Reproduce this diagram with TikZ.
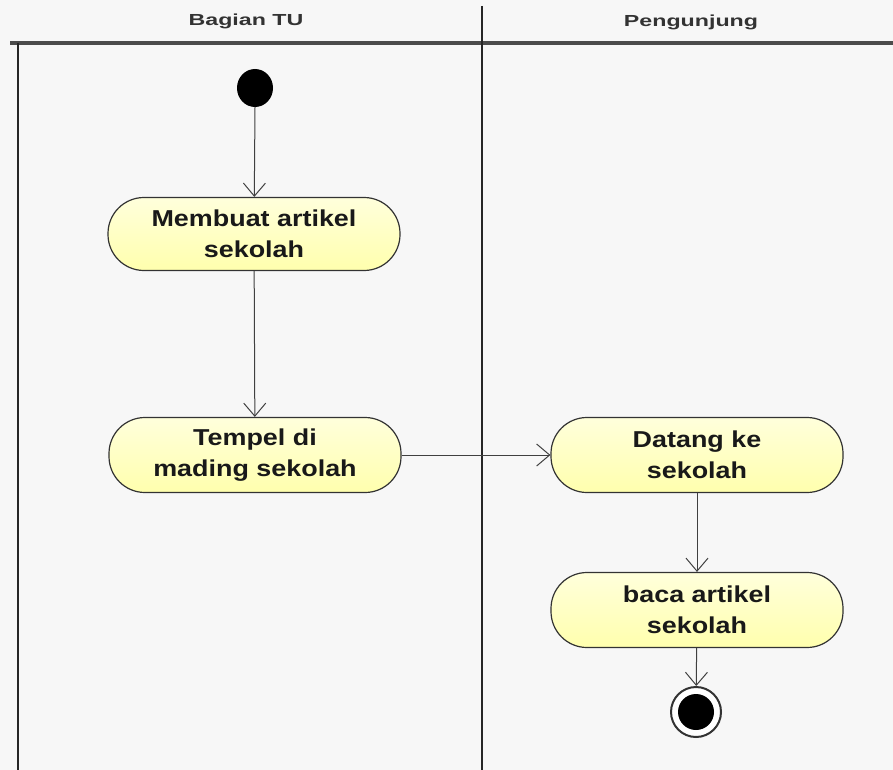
\documentclass[tikz,border=0pt]{standalone}
\usepackage{fontspec}
\setmainfont{Liberation Sans}
\newfontfamily\actfont[FakeStretch=1.17]{Liberation Sans}
\newfontfamily\lanefont[FakeStretch=1.45]{Liberation Sans}
\usetikzlibrary{arrows.meta,positioning}
\tikzset{
	act/.style={draw=black!80, line width=1.2pt, rounded corners=36pt,
		top color=yellow!14, bottom color=yellow!32,
		minimum width=292pt, minimum height=75pt, align=center,
		font=\actfont\fontsize{23}{31}\selectfont\bfseries, text=black!90},
	flow/.style={draw=black!75, line width=1pt, -{Straight Barb[length=13pt,width=22pt]}},
	lane/.style={draw=black!85, line width=2pt},
	lanetitle/.style={font=\lanefont\fontsize{16}{18}\selectfont\bfseries, text=black!80}
}
\begin{document}
\begin{tikzpicture}[x=1pt,y=-1pt]
	\useasboundingbox (0,0) rectangle (893,770);
	\fill[black!3] (0,0) rectangle (893,770);
	% swimlanes
	\draw[lane, line width=4pt, black!70] (10,43) -- (893,43);
	\draw[lane] (18,43) -- (18,770);
	\draw[lane] (482,6) -- (482,770);
	\node[lanetitle] (tu) at (246,21) {Bagian TU};
	\node[lanetitle] (pengunjung) at (691,22) {Pengunjung};
	% activities
	\fill[black] (255,88) ellipse (18pt and 19pt);
	\coordinate (awal) at (255,107);
	\node[act, minimum height=73pt] (membuat) at (254,234) {Membuat artikel\\sekolah};
	\node[act] (tempel) at (255,455) {Tempel di\\mading sekolah};
	\node[act] (datang) at (697,455) {Datang ke\\sekolah};
	\node[act] (baca) at (697,610) {baca artikel\\sekolah};
	\node[circle, draw=black!80, line width=2pt, fill=white, minimum size=50pt] (akhir) at (696,712) {};
	\fill[black] (akhir) circle (18pt);
	% flows
	\draw[flow] (awal) -- (membuat);
	\draw[flow] (membuat) -- (tempel);
	\draw[flow] (tempel) -- (datang);
	\draw[flow] (datang) -- (baca);
	\draw[flow] (baca) -- (akhir);
\end{tikzpicture}
\end{document}
